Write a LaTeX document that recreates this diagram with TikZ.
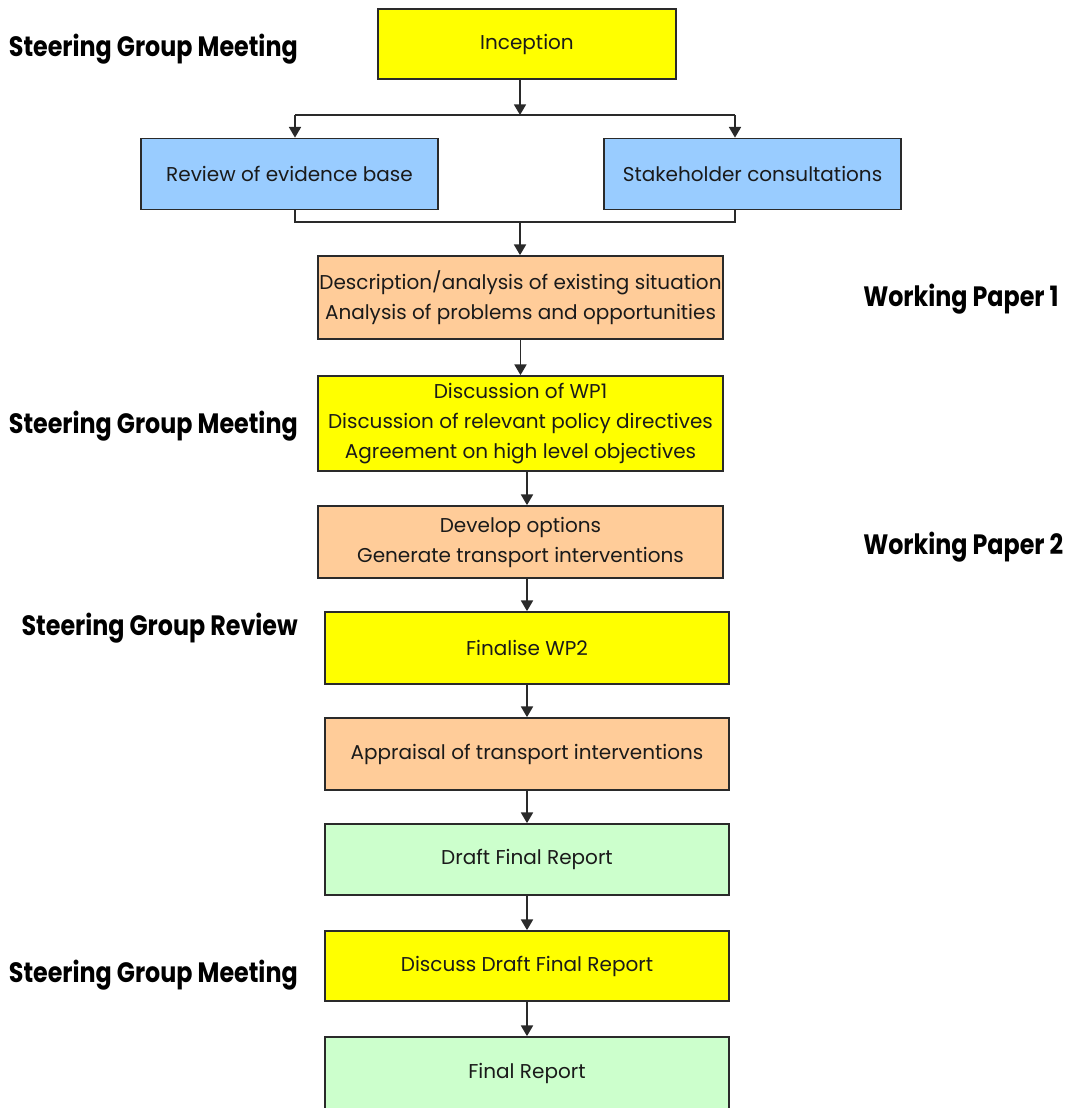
\documentclass[tikz,border=0pt]{standalone}
\usepackage{fontspec}
\setmainfont{Poppins}
\newfontfamily\lblfont{Poppins}[FakeStretch=0.85]
\usetikzlibrary{arrows.meta}
\definecolor{cyel}{HTML}{FFFF00}
\definecolor{cblue}{HTML}{99CCFF}
\definecolor{corange}{HTML}{FFCC99}
\definecolor{cgreen}{HTML}{CCFFCC}
\definecolor{cline}{HTML}{2A2A2A}
\definecolor{ctxt}{HTML}{1A1A1A}
\begin{document}
\begin{tikzpicture}[x=0.75pt,y=-0.75pt,
  box/.style={draw=cline, line width=1.3pt, rectangle, inner sep=0pt, align=center,
    text=ctxt, font=\fontsize{15}{22.5}\selectfont},
  yel/.style={box, fill=cyel},
  blu/.style={box, fill=cblue},
  ora/.style={box, fill=corange},
  grn/.style={box, fill=cgreen},
  conn/.style={draw=cline, line width=1.3pt},
  arr/.style={conn, -{Triangle[width=9pt,length=8pt]}},
  lbl/.style={inner sep=0pt, font=\lblfont\bfseries\fontsize{21}{24}\selectfont}]
\useasboundingbox (0,0) rectangle (1070,1108);
\fill[white] (0,0) rectangle (1070,1108);

% boxes
\node[yel, minimum width=223.5pt, minimum height=52.5pt] (inc) at (527,44) {Inception};
\node[blu, minimum width=222.75pt, minimum height=53.25pt] (rev) at (289.5,174) {Review of evidence base};
\node[blu, minimum width=222.75pt, minimum height=53.25pt] (stk) at (752.5,174) {Stakeholder consultations};
\node[ora, minimum width=303.75pt, minimum height=62.25pt] (d1) at (520.5,297.5) {Description/analysis of existing situation\\Analysis of problems and opportunities};
\node[yel, minimum width=303.75pt, minimum height=71.25pt] (d2) at (520.5,423.5) {Discussion of WP1\\Discussion of relevant policy directives\\Agreement on high level objectives};
\node[ora, minimum width=303.75pt, minimum height=54pt] (d3) at (520.5,542) {Develop options\\Generate transport interventions};
\node[yel, minimum width=303pt, minimum height=54pt] (d4) at (527,648) {Finalise WP2};
\node[ora, minimum width=303pt, minimum height=54pt] (d5) at (527,754) {Appraisal of transport interventions};
\node[grn, minimum width=303pt, minimum height=53.25pt] (d6) at (527,859.5) {Draft Final Report};
\node[yel, minimum width=303pt, minimum height=52.5pt] (d7) at (527,966) {Discuss Draft Final Report};
\node[grn, minimum width=303pt, minimum height=54.75pt] (d8) at (527,1073.5) {Final Report};

% labels
\node[lbl, anchor=base east] (g1) at (298,56) {Steering Group Meeting};
\node[lbl, anchor=base east] (g2) at (298,433) {Steering Group Meeting};
\node[lbl, anchor=base east] (g3) at (298,635) {Steering Group Review};
\node[lbl, anchor=base east] (g4) at (298,982) {Steering Group Meeting};
\node[lbl, anchor=base west] (w1) at (863,306) {Working Paper 1};
\node[lbl, anchor=base west] (w2) at (863,554) {Working Paper 2};

% split
\coordinate (s) at (520,115);
\coordinate (sl) at (295,115);
\coordinate (sr) at (735,115);
\draw[arr] (inc.south -| s) -- (s);
\draw[conn] (sl) -- (sr);
\draw[arr] (sl) -- (rev.north -| sl);
\draw[arr] (sr) -- (stk.north -| sr);

% merge
\coordinate (m) at (520,222);
\coordinate (ml) at (295,222);
\coordinate (mr) at (735,222);
\draw[conn] (rev.south -| ml) -- (ml) -- (mr) -- (stk.south -| mr);
\draw[arr] (m) -- (d1.north -| m);

% chain
\draw[arr] (d1.south) -- (d2.north);
\draw[arr] (d2.south -| d4) -- (d3.north -| d4);
\draw[arr] (d3.south -| d4) -- (d4.north);
\draw[arr] (d4.south) -- (d5.north);
\draw[arr] (d5.south) -- (d6.north);
\draw[arr] (d6.south) -- (d7.north);
\draw[arr] (d7.south) -- (d8.north);
\end{tikzpicture}
\end{document}
